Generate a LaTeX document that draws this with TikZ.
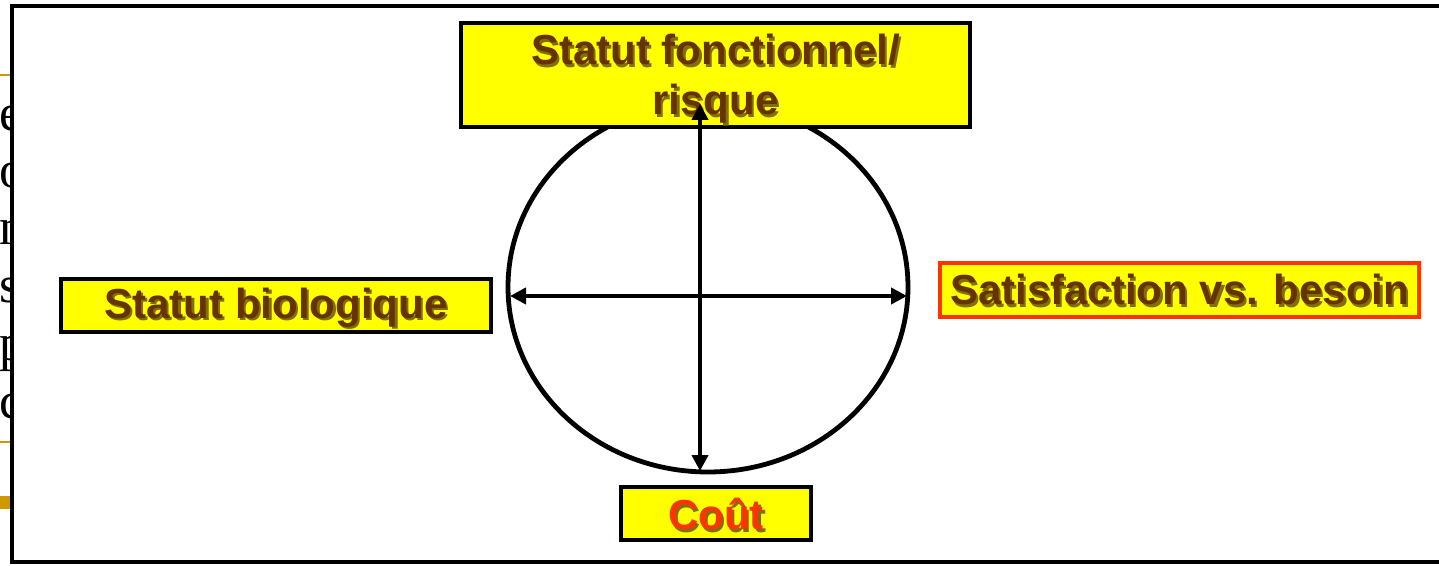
\documentclass[tikz,border=0pt]{standalone}
\usepackage{fontspec}
\setmainfont{Liberation Serif}
\newfontfamily\boxfont{Liberation Sans}
\usepackage{tikz}
\usetikzlibrary{arrows.meta,shapes.geometric}

\definecolor{boxyellow}{RGB}{255,255,0}
\definecolor{txtbrown}{RGB}{102,51,0}
\definecolor{txtred}{RGB}{255,51,0}
\definecolor{txtshade}{RGB}{128,112,0}
\definecolor{slidegold}{RGB}{204,153,0}

% text with a soft drop shadow, lowered a little
\newcommand{\shtxt}[3][1.5pt]{\raisebox{-#1}[\height][\depth]{\makebox[0pt][l]{\hspace{1.2pt}\raisebox{-1.2pt}{\color{txtshade}#3}}{\color{#2}#3}}}

\begin{document}
\begin{tikzpicture}[
	x=0.5pt, y=-0.5pt,
	labelbox/.style={draw=black, line width=2.4pt, fill=boxyellow, inner sep=0pt,
		align=center, font=\boxfont\bfseries\fontsize{21pt}{25pt}\selectfont},
	dblarrow/.style={{Triangle[length=8pt,width=8pt]}-{Triangle[length=8pt,width=8pt]},
		line width=2.3pt, black},
	slideletter/.style={anchor=base west, inner sep=0pt, font=\fontsize{26pt}{26pt}\selectfont},
]
	\useasboundingbox (0,0) rectangle (1439,566);
	\fill[white] (0,0) rectangle (1439,566);

	% slide behind
	\node[slideletter] (s1) at (-1,131) {er};
	\node[slideletter] (s2) at (-1,188) {o};
	\node[slideletter] (s3) at (-1,245) {n};
	\node[slideletter] (s4) at (-1,303) {s};
	\node[slideletter] (s5) at (-1,361) {p};
	\node[slideletter] (s6) at (-1,418) {c};
	\draw[slidegold, line width=1pt] (0,75) -- (12,75);
	\draw[slidegold, line width=1pt] (0,442) -- (12,442);
	\fill[slidegold] (0,496) rectangle (12,509);

	% panel
	\draw[line width=2.4pt, fill=white] (12,6) rectangle (1460,562);

	\node[draw, ellipse, line width=2.4pt, inner sep=0pt, minimum width=200pt, minimum height=185pt] at (708,287) (ring) {};

	\node[labelbox, minimum width=254.5pt, minimum height=52pt] at (715.5,75) (0)
		{\shtxt[2.5pt]{txtbrown}{Statut fonctionnel/}\\\shtxt[2.5pt]{txtbrown}{risque}};
	\node[labelbox, minimum width=215pt, minimum height=26.5pt] at (276,305.5) (1)
		{\shtxt{txtbrown}{Statut biologique}};
	\node[labelbox, draw=txtred, minimum width=239.5pt, minimum height=27pt] at (1179.5,290) (2)
		{\shtxt[0.5pt]{txtbrown}{Satisfaction vs. besoin}};
	\node[labelbox, minimum width=95pt, minimum height=26.5pt] at (716,513.5) (3)
		{\shtxt[1pt]{txtred}{Coût}};

	\coordinate (vtop) at (700,104);
	\coordinate (vbot) at (700,471);
	\coordinate (hl) at (510,296);
	\coordinate (hr) at (907,296);

	\draw[dblarrow] (vtop) -- (vbot);
	\draw[dblarrow] (hl) -- (hr);
\end{tikzpicture}
\end{document}
